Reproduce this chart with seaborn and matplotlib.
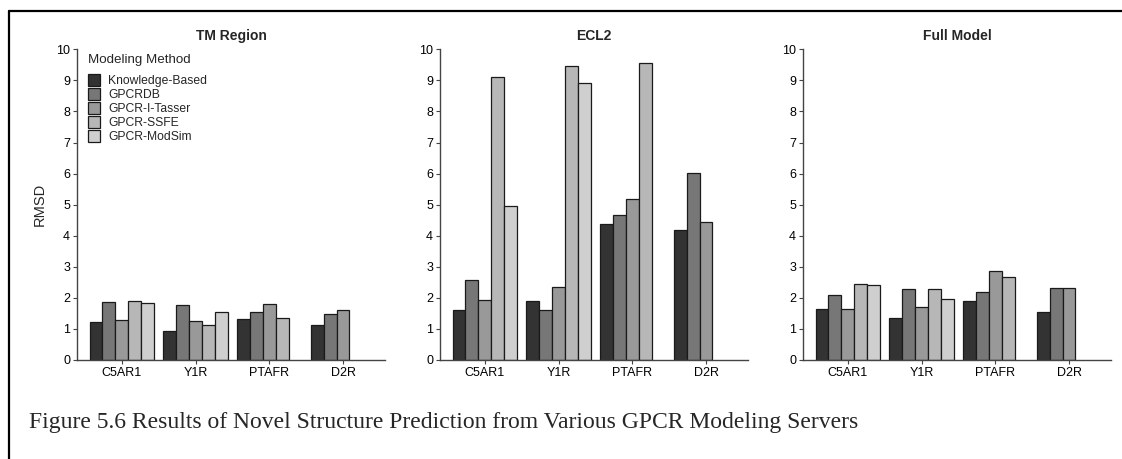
import numpy as np
import pandas as pd
import matplotlib
matplotlib.use("Agg")
import matplotlib.pyplot as plt
from matplotlib.lines import Line2D
import seaborn as sns

# Receptor targets and modeling servers
receptors = ["C5AR1", "Y1R", "PTAFR", "D2R"]
methods = ["Knowledge-Based", "GPCRDB", "GPCR-I-Tasser", "GPCR-SSFE", "GPCR-ModSim"]
colors = ["#333333", "#777777", "#999999", "#b7b7b7", "#cfcfcf"]

# RMSD per method, one value per receptor (NaN = no model available)
nan = np.nan
tm_region = {
    "Knowledge-Based": [1.23, 0.93, 1.31, 1.12],
    "GPCRDB":          [1.86, 1.77, 1.56, 1.48],
    "GPCR-I-Tasser":   [1.29, 1.27, 1.80, 1.60],
    "GPCR-SSFE":       [1.91, 1.13, 1.35, nan],
    "GPCR-ModSim":     [1.82, 1.56, nan, nan],
}
ecl2 = {
    "Knowledge-Based": [1.60, 1.90, 4.38, 4.20],
    "GPCRDB":          [2.58, 1.61, 4.66, 6.01],
    "GPCR-I-Tasser":   [1.94, 2.34, 5.17, 4.44],
    "GPCR-SSFE":       [9.12, 9.46, 9.55, nan],
    "GPCR-ModSim":     [4.97, 8.93, nan, nan],
}
full_model = {
    "Knowledge-Based": [1.65, 1.35, 1.90, 1.53],
    "GPCRDB":          [2.08, 2.30, 2.18, 2.32],
    "GPCR-I-Tasser":   [1.64, 1.71, 2.88, 2.31],
    "GPCR-SSFE":       [2.46, 2.30, 2.68, nan],
    "GPCR-ModSim":     [2.41, 1.96, nan, nan],
}
panel_titles = ["TM Region", "ECL2", "Full Model"]
panels = [tm_region, ecl2, full_model]


def to_long(table):
    rows = []
    for m in methods:
        for r, v in zip(receptors, table[m]):
            rows.append({"Receptor": r, "Method": m, "RMSD": v})
    return pd.DataFrame(rows)


sns.set_style("ticks")
plt.rcParams["font.family"] = ["Liberation Sans", "DejaVu Sans"]
plt.rcParams["axes.edgecolor"] = "#444444"
plt.rcParams["xtick.color"] = "#444444"
plt.rcParams["ytick.color"] = "#444444"
plt.rcParams["xtick.labelcolor"] = "black"
plt.rcParams["ytick.labelcolor"] = "black"

W, H = 1122, 459
fig = plt.figure(figsize=(W / 100, H / 100), dpi=100)

lefts = [77, 440, 803]
ax_w = 308
ax_bottom = H - 360
ax_h = 360 - 49.3

for i, (table, title, lx) in enumerate(zip(panels, panel_titles, lefts)):
    ax = fig.add_axes([lx / W, ax_bottom / H, ax_w / W, ax_h / H])
    df = to_long(table)
    sns.barplot(
        data=df, x="Receptor", y="RMSD", hue="Method",
        order=receptors, hue_order=methods, palette=colors,
        width=0.88, edgecolor="#1a1a1a", linewidth=0.9,
        saturation=1, ax=ax, legend=(i == 0),
    )
    ax.set_xlim(-0.61, 3.57)
    ax.set_ylim(0, 10)
    ax.set_yticks(range(0, 11))
    ax.set_xlabel("")
    ax.set_ylabel("RMSD" if i == 0 else "", fontsize=10.5, labelpad=7)
    ax.set_title(title, fontsize=10, fontweight="bold", pad=7)
    ax.tick_params(axis="both", labelsize=9, length=3, width=0.8, pad=2)
    for s in ["top", "right"]:
        ax.spines[s].set_visible(False)
    for s in ["left", "bottom"]:
        ax.spines[s].set_linewidth(1.0)
    if i == 0:
        leg = ax.legend(
            title="Modeling Method", loc="upper left",
            bbox_to_anchor=(0.005, 1.015), frameon=False,
            fontsize=8.7, title_fontsize=9.6,
            handlelength=1.0, handleheight=1.15,
            labelspacing=0.08, handletextpad=0.65, borderaxespad=0.4,
        )
        leg._legend_box.align = "left"
        # a little more room between the legend title and its entries
        leg._legend_box.sep = 5.5

# Caption below the panels
fig.text(29 / W, 1 - 428 / H,
         "Figure 5.6 Results of Novel Structure Prediction from Various GPCR Modeling Servers",
         fontsize=17, family=["Liberation Serif", "DejaVu Serif"], va="baseline", ha="left")

# Page frame lines (top and left)
fig.add_artist(Line2D([9 / W, 1], [1 - 11 / H, 1 - 11 / H], color="black", lw=1.6,
                      transform=fig.transFigure))
fig.add_artist(Line2D([9 / W, 9 / W], [0, 1 - 11 / H], color="black", lw=1.6,
                      transform=fig.transFigure))

fig.savefig("out.png", dpi=100)
